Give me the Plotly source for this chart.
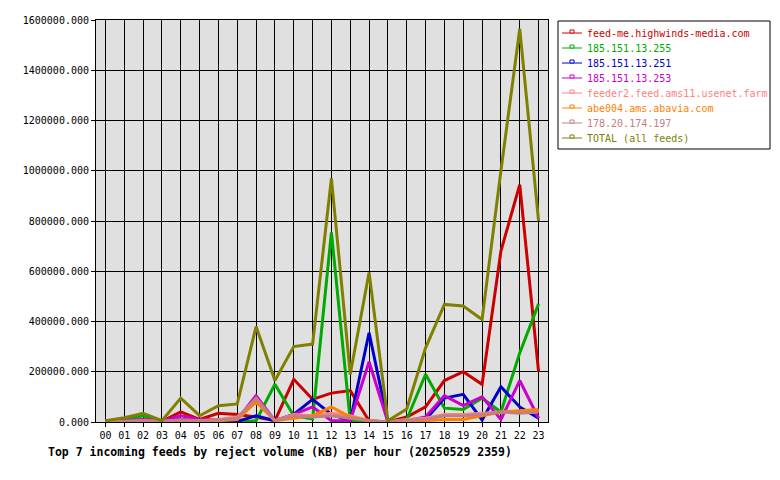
import plotly.graph_objects as go

hours = ["%02d" % h for h in range(24)]

feed_me = [2000, 5000, 8000, 3000, 40000, 10000, 35000, 30000, 20000, 5000, 170000, 90000,
           115000, 125000, 5000, 0, 20000, 60000, 165000, 200000, 150000, 680000, 945000, 200000]
ip_255 = [0, 10000, 25000, 5000, 10000, 5000, 5000, 0, 5000, 150000, 25000, 12000,
          755000, 5000, 0, 0, 10000, 190000, 55000, 50000, 95000, 40000, 275000, 470000]
ip_251 = [0, 2000, 5000, 2000, 10000, 3000, 3000, 2000, 25000, 5000, 30000, 90000,
          30000, 5000, 355000, 0, 2000, 10000, 95000, 110000, 8000, 140000, 60000, 15000]
ip_253 = [0, 5000, 10000, 5000, 25000, 10000, 10000, 10000, 105000, 5000, 30000, 60000,
          5000, 5000, 240000, 0, 5000, 20000, 105000, 65000, 100000, 10000, 165000, 15000]
feeder2 = [0, 3000, 5000, 3000, 8000, 5000, 10000, 20000, 90000, 5000, 30000, 25000,
           35000, 25000, 5000, 0, 10000, 15000, 30000, 30000, 35000, 40000, 40000, 45000]
abe004 = [0, 2000, 3000, 2000, 5000, 5000, 5000, 10000, 80000, 5000, 15000, 25000,
          60000, 20000, 5000, 0, 5000, 5000, 10000, 10000, 25000, 40000, 45000, 50000]
ip_197 = [0, 3000, 5000, 3000, 8000, 5000, 8000, 15000, 95000, 5000, 25000, 20000,
          25000, 15000, 5000, 0, 8000, 10000, 25000, 25000, 30000, 40000, 35000, 40000]
total = [5000, 17000, 35000, 5000, 95000, 25000, 65000, 72000, 380000, 165000, 300000, 310000,
         970000, 190000, 595000, 5000, 52000, 295000, 468000, 462000, 408000, 1000000, 1565000, 800000]

names = ["feed-me.highwinds-media.com", "185.151.13.255", "185.151.13.251", "185.151.13.253",
         "feeder2.feed.ams11.usenet.farm", "abe004.ams.abavia.com", "178.20.174.197",
         "TOTAL (all feeds)"]
series = [feed_me, ip_255, ip_251, ip_253, feeder2, abe004, ip_197, total]
colors = ["#CC0000", "#00AA00", "#0000CC", "#CC00CC", "#FF8080", "#FF8000", "#C08080", "#808000"]

mono = "DejaVu Sans Mono"
L, T, PW, PH = 96, 20, 452, 402  # plot area in px


def px(x):
    return (x - L) / PW


def py(y):
    return (T + PH - y) / PH


fig = go.Figure()
for name, vals, col in zip(names, series, colors):
    fig.add_trace(go.Scatter(x=hours, y=vals, mode="lines", name=name,
                             line=dict(color=col, width=3), showlegend=False))

shapes = [dict(type="rect", xref="paper", yref="paper", x0=px(558), x1=px(770),
               y0=py(149), y1=py(21), line=dict(color="black", width=1),
               fillcolor="white", layer="above")]
annotations = []
for i, (name, col) in enumerate(zip(names, colors)):
    yc = 33 + 15 * i
    shapes.append(dict(type="line", xref="paper", yref="paper", x0=px(562), x1=px(582),
                       y0=py(yc), y1=py(yc), line=dict(color=col, width=1)))
    shapes.append(dict(type="rect", xref="paper", yref="paper", x0=px(570), x1=px(574),
                       y0=py(yc), y1=py(yc - 3), line=dict(color=col, width=1),
                       fillcolor="white"))
    annotations.append(dict(text=name, xref="paper", yref="paper", x=px(585), y=py(yc),
                            xanchor="left", yanchor="middle", showarrow=False,
                            font=dict(family=mono, size=10, color=col)))

annotations.append(dict(text="<b>Top 7 incoming feeds by reject volume (KB) per hour (20250529 2359)</b>",
                        xref="paper", yref="paper", x=px(46), y=py(452), xanchor="left",
                        yanchor="middle", showarrow=False,
                        font=dict(family=mono, size=11.5, color="black")))

fig.update_layout(
    width=780, height=480,
    margin=dict(l=96, r=232, t=20, b=58, autoexpand=False),
    paper_bgcolor="white", plot_bgcolor="#E0E0E0",
    font=dict(family=mono, size=10, color="black"),
    showlegend=False,
    xaxis=dict(type="category", range=[-0.5, 23.5], showgrid=True, gridcolor="black",
               gridwidth=1, ticks="outside", ticklen=4, tickcolor="black",
               showline=True, linecolor="black", linewidth=1, mirror=True,
               tickfont=dict(family=mono, size=10), zeroline=False),
    yaxis=dict(range=[0, 1600000], dtick=200000, tickformat=".3f", showgrid=True,
               gridcolor="black", gridwidth=1, ticks="outside", ticklen=4,
               tickcolor="black", showline=True, linecolor="black", linewidth=1,
               mirror=True, tickfont=dict(family=mono, size=10), zeroline=False),
    shapes=shapes,
    annotations=annotations,
)

fig.write_html("out.html")
